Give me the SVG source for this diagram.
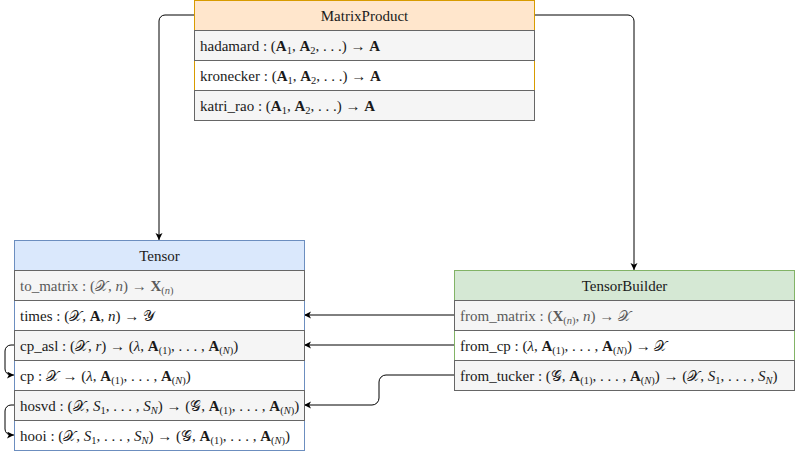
<svg xmlns="http://www.w3.org/2000/svg" width="795" height="451" viewBox="0 0 795 451">
<style>
text{font-family:"Liberation Serif","DejaVu Serif",serif;font-size:15px;fill:#1a1a1a}
.h{text-anchor:middle}
.lt{fill:#5a5a5a}
.b{font-weight:bold}
.i{font-style:italic}
.s{font-size:10.5px}
.row{fill:#f5f5f5;stroke:#666666;stroke-width:1}
.c{fill:none;stroke:#000;stroke-width:1}
</style>
<defs>
<marker id="ar" markerUnits="userSpaceOnUse" markerWidth="8" markerHeight="8" refX="7" refY="3.5" orient="auto">
<path d="M0,0 L7,3.5 L0,7 L1.8,3.5 z" fill="#000"/>
</marker>
</defs>
<rect width="795" height="451" fill="#fff"/>
<g id="connectors">
<path class="c" d="M194,15 H165 A6,6 0 0 0 159,21 V240" marker-end="url(#ar)"/>
<path class="c" d="M534,15 H628 A6,6 0 0 1 634,21 V270" marker-end="url(#ar)"/>
<path class="c" d="M454,315 H304" marker-end="url(#ar)"/>
<path class="c" d="M454,345 H304" marker-end="url(#ar)"/>
<path class="c" d="M454,375 H386 A7,7 0 0 0 379,382 V398 A7,7 0 0 1 372,405 H304" marker-end="url(#ar)"/>
<path class="c" d="M14,345 H11 A6,6 0 0 0 5,351 V369 A6,6 0 0 0 11,375 H14" marker-end="url(#ar)"/>
<path class="c" d="M14,405 H11 A6,6 0 0 0 5,411 V429 A6,6 0 0 0 11,435 H14" marker-end="url(#ar)"/>
</g>
<g id="MatrixProduct">
<rect x="194.5" y="0.5" width="340" height="120" fill="#fff" stroke="#d79b00"/>
<rect x="194.5" y="0.5" width="340" height="30" fill="#ffe6cc" stroke="#d79b00"/>
<text class="h" x="364.5" y="20.5">MatrixProduct</text>
<rect class="row" x="194.5" y="30.5" width="340" height="30"/>
<text x="200" y="50.5">hadamard : (<tspan class="b">A</tspan><tspan class="s" dy="3">1</tspan><tspan dy="-3">, </tspan><tspan class="b">A</tspan><tspan class="s" dy="3">2</tspan><tspan dy="-3">, . . .) → </tspan><tspan class="b">A</tspan></text>
<text x="200" y="80.5">kronecker : (<tspan class="b">A</tspan><tspan class="s" dy="3">1</tspan><tspan dy="-3">, </tspan><tspan class="b">A</tspan><tspan class="s" dy="3">2</tspan><tspan dy="-3">, . . .) → </tspan><tspan class="b">A</tspan></text>
<rect class="row" x="194.5" y="90.5" width="340" height="30"/>
<text x="200" y="110.5">katri_rao : (<tspan class="b">A</tspan><tspan class="s" dy="3">1</tspan><tspan dy="-3">, </tspan><tspan class="b">A</tspan><tspan class="s" dy="3">2</tspan><tspan dy="-3">, . . .) → </tspan><tspan class="b">A</tspan></text>
</g>
<g id="Tensor">
<rect x="14.5" y="240.5" width="290" height="210" fill="#fff" stroke="#6c8ebf"/>
<rect x="14.5" y="240.5" width="290" height="30" fill="#dae8fc" stroke="#6c8ebf"/>
<text class="h" x="159.5" y="260.5">Tensor</text>
<rect class="row" x="14.5" y="270.5" width="290" height="30"/>
<text class="lt" x="20" y="290.5">to_matrix : (𝒳, <tspan class="i">n</tspan>) → <tspan class="b">X</tspan><tspan class="s" dy="3">(<tspan class="i">n</tspan>)</tspan></text>
<text x="20" y="320.5">times : (𝒳, <tspan class="b">A</tspan>, <tspan class="i">n</tspan>) → 𝒴</text>
<rect class="row" x="14.5" y="330.5" width="290" height="30"/>
<text x="20" y="350.5">cp_asl : (𝒳, <tspan class="i">r</tspan>) → (<tspan class="i">λ</tspan>, <tspan class="b">A</tspan><tspan class="s" dy="3">(1)</tspan><tspan dy="-3">, . . . , </tspan><tspan class="b">A</tspan><tspan class="s" dy="3">(<tspan class="i">N</tspan>)</tspan><tspan dy="-3">)</tspan></text>
<text x="20" y="380.5">cp : 𝒳 → (<tspan class="i">λ</tspan>, <tspan class="b">A</tspan><tspan class="s" dy="3">(1)</tspan><tspan dy="-3">, . . . , </tspan><tspan class="b">A</tspan><tspan class="s" dy="3">(<tspan class="i">N</tspan>)</tspan><tspan dy="-3">)</tspan></text>
<rect class="row" x="14.5" y="390.5" width="290" height="30"/>
<text x="20" y="410.5">hosvd : (𝒳, <tspan class="i">S</tspan><tspan class="s" dy="3">1</tspan><tspan dy="-3">, . . . , </tspan><tspan class="i">S</tspan><tspan class="s i" dy="3">N</tspan><tspan dy="-3">) → (𝒢, </tspan><tspan class="b">A</tspan><tspan class="s" dy="3">(1)</tspan><tspan dy="-3">, . . . , </tspan><tspan class="b">A</tspan><tspan class="s" dy="3">(<tspan class="i">N</tspan>)</tspan><tspan dy="-3">)</tspan></text>
<text x="20" y="440.5">hooi : (𝒳, <tspan class="i">S</tspan><tspan class="s" dy="3">1</tspan><tspan dy="-3">, . . . , </tspan><tspan class="i">S</tspan><tspan class="s i" dy="3">N</tspan><tspan dy="-3">) → (𝒢, </tspan><tspan class="b">A</tspan><tspan class="s" dy="3">(1)</tspan><tspan dy="-3">, . . . , </tspan><tspan class="b">A</tspan><tspan class="s" dy="3">(<tspan class="i">N</tspan>)</tspan><tspan dy="-3">)</tspan></text>
</g>
<g id="TensorBuilder">
<rect x="454.5" y="270.5" width="340" height="120" fill="#fff" stroke="#82b366"/>
<rect x="454.5" y="270.5" width="340" height="30" fill="#d5e8d4" stroke="#82b366"/>
<text class="h" x="624.5" y="290.5">TensorBuilder</text>
<rect class="row" x="454.5" y="300.5" width="340" height="30"/>
<text class="lt" x="460" y="320.5">from_matrix : (<tspan class="b">X</tspan><tspan class="s" dy="3">(<tspan class="i">n</tspan>)</tspan><tspan dy="-3">, </tspan><tspan class="i">n</tspan>) → 𝒳</text>
<text x="460" y="350.5">from_cp : (<tspan class="i">λ</tspan>, <tspan class="b">A</tspan><tspan class="s" dy="3">(1)</tspan><tspan dy="-3">, . . . , </tspan><tspan class="b">A</tspan><tspan class="s" dy="3">(<tspan class="i">N</tspan>)</tspan><tspan dy="-3">) → 𝒳</tspan></text>
<rect class="row" x="454.5" y="360.5" width="340" height="30"/>
<text x="460" y="380.5">from_tucker : (𝒢, <tspan class="b">A</tspan><tspan class="s" dy="3">(1)</tspan><tspan dy="-3">, . . . , </tspan><tspan class="b">A</tspan><tspan class="s" dy="3">(<tspan class="i">N</tspan>)</tspan><tspan dy="-3">) → (𝒳, </tspan><tspan class="i">S</tspan><tspan class="s" dy="3">1</tspan><tspan dy="-3">, . . . , </tspan><tspan class="i">S</tspan><tspan class="s i" dy="3">N</tspan><tspan dy="-3">)</tspan></text>
</g>
</svg>
